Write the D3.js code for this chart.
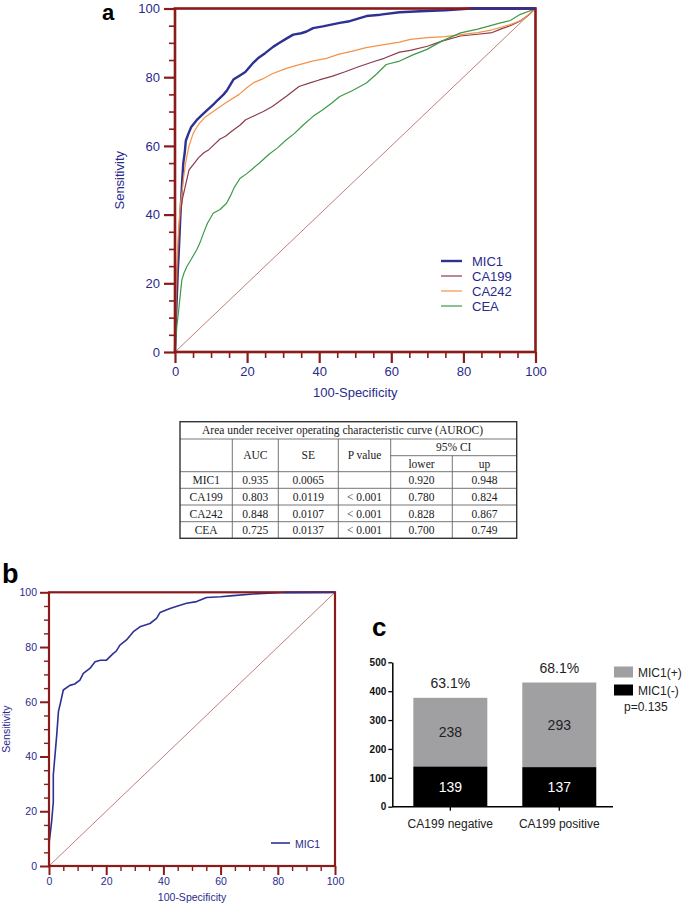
<!DOCTYPE html>
<html><head><meta charset="utf-8">
<script src="https://cdn.jsdelivr.net/npm/d3@7"></script>
<style>
html,body{margin:0;padding:0;background:#fff;}
svg{display:block;}
</style></head>
<body>
<svg id="chart" width="685" height="905"></svg>
<script>
// ---------- DATA ----------
// Panel a ROC curves: [100-Specificity, Sensitivity]
const mic1A = [[0,0],[0.2,8],[0.5,16],[0.8,24],[1,28],[1.3,35],[1.5,40],[1.8,46],[2,50],[2.3,55],[2.7,58],[3,61.5],[3.7,63.5],[4.5,65.5],[6,67.5],[7.5,69],[9,70.5],[10.6,72],[12,73.5],[13.5,75],[14.5,76.3],[16.2,79.3],[18,80.5],[19.5,81.5],[21.7,84.2],[23,85.5],[25,87],[27.3,88.9],[29,90],[31,91.3],[32.8,92.4],[35,92.8],[36.5,93.3],[38.3,94.3],[41,94.8],[45.7,95.8],[48,96.2],[53.1,97.8],[57,98.2],[62.3,98.9],[68,99.2],[75,99.5],[82,100],[100,100]];
const ca199A = [[0,0],[0.2,8],[0.5,20],[0.8,28],[1,32],[1.3,38],[1.5,40],[2,44.3],[2.8,48],[3.9,53],[5,54.5],[6.5,56.5],[8,58],[9.4,58.9],[11,60.5],[12.5,62],[14,62.8],[16,64.5],[18,66],[19.6,67.6],[22,68.8],[24.5,70],[27,71.5],[29,73],[31,74.5],[34.4,77.3],[37,78.2],[40,79.2],[43.7,80.3],[47,81.5],[51.1,83.1],[55,84.5],[58,85.5],[62.3,87.3],[65.3,87.8],[70,89],[74,90.5],[79.2,92],[84,92.5],[88,93],[90.3,94],[93,95],[95.8,96.4],[98,98],[100,100]];
const ca242A = [[0,0],[0.2,12],[0.5,24],[0.8,32],[1,36],[1.5,43],[2,47],[2.3,50.1],[2.8,54],[3.3,57],[3.9,60],[5,63.5],[5.8,65],[6.7,66.5],[8.5,68.5],[11.3,70.5],[14,72.5],[17.8,75],[20,77],[22,78.5],[24.3,79.5],[27,81],[30.7,82.5],[34,83.5],[38.1,84.7],[42,85.5],[45.5,86.7],[49,87.5],[53,88.6],[58,89.5],[62.3,90.2],[65.3,91],[70,91.5],[75,91.8],[79.2,92.4],[84,93],[88,93.8],[93,95.3],[96,96.5],[98.6,98.7],[100,100]];
const ceaA = [[0,0],[0.3,4],[0.5,7.4],[1,12],[1.5,17],[1.9,21],[2.5,23],[3.3,24.9],[4.5,27],[6,29.7],[7,32],[7.9,34.6],[9,37.5],[10.6,40.4],[12.5,41.5],[14.3,43.3],[15.3,45.3],[16.5,48],[18,50.5],[20,52],[23.5,55.1],[26,57.5],[28.5,59.5],[30.9,61.8],[33,63.5],[35.5,66],[38.3,68.6],[41,70.5],[43.5,72.5],[45.7,74.4],[49,76],[53.1,78.3],[56,81],[58.6,83.7],[62.3,84.7],[66,86.5],[69.9,88.1],[74,90.5],[79.2,92.9],[84,94],[90.3,95.8],[93,96.5],[95.8,98.3],[99.5,99.7],[100,100]];
const seriesNamesA = ["MIC1","CA199","CA242","CEA"];
const seriesColorsA = ["#2e3192","#8c3b4b","#f4924a","#3d9a48"];

// Panel b ROC curve
const mic1B = [[0,0],[0.1,8.9],[0.9,16],[1.5,23.4],[1.5,33.2],[2.1,40.5],[2.7,47.8],[3.3,56.4],[4.1,60],[5,64.3],[7.3,66],[9,66.5],[10.8,67.9],[12,70.4],[14.3,72.2],[16.1,74.6],[18,75.2],[20.1,75.2],[22.5,77.7],[23.5,78.5],[24.8,80.7],[27.1,82.6],[29.5,85.6],[31.8,87.4],[35.3,88.6],[37.6,90.5],[38.8,92.6],[42.3,94.1],[45,95],[48.1,96],[51.6,96.6],[55.1,98.1],[60,98.4],[64.4,98.8],[71.4,99.4],[81.9,99.9],[100,100]];

// Table
const tableTitle = "Area under receiver operating characteristic curve (AUROC)";
const tableHeaders = ["", "AUC", "SE", "P  value", "lower", "up"];
const tableCIHeader = "95% CI";
const tableMarkers = ["MIC1","CA199","CA242","CEA"];
const tableAUC = ["0.935","0.803","0.848","0.725"];
const tableSE = ["0.0065","0.0119","0.0107","0.0137"];
const tableP = ["","< 0.001","< 0.001","< 0.001"];
const tableLower = ["0.920","0.780","0.828","0.700"];
const tableUp = ["0.948","0.824","0.867","0.749"];

// Panel c stacked bars
const barCategories = ["CA199 negative","CA199 positive"];
const micNeg = [139,137];
const micPos = [238,293];
const barPercents = ["63.1%","68.1%"];
const barTicks = [0,100,200,300,400,500];
const rocTicks = [0,20,40,60,80,100];

// ---------- DRAW ----------
const svg = d3.select("#chart");
const NAVY = "#2a2a8c";
const AXRED = "#8b1a1a";
const SANS = "'Liberation Sans', Arial, sans-serif";

function rocPanel(opt){
  const g = svg.append("g");
  const x = d3.scaleLinear().domain([0,100]).range([opt.x0,opt.x1]);
  const y = d3.scaleLinear().domain([0,100]).range([opt.y0,opt.y1]);
  const minor = d3.range(0,101,5).filter(v=>v%20!==0);
  g.append("g").attr("transform",`translate(0,${opt.y0})`)
    .call(d3.axisBottom(x).tickValues(minor).tickSize(opt.minT).tickFormat(""))
    .call(s=>{s.select(".domain").remove(); s.selectAll("line").attr("stroke",AXRED).attr("stroke-width",opt.tw);});
  g.append("g").attr("transform",`translate(${opt.x0},0)`)
    .call(d3.axisLeft(y).tickValues(minor).tickSize(opt.minT).tickFormat(""))
    .call(s=>{s.select(".domain").remove(); s.selectAll("line").attr("stroke",AXRED).attr("stroke-width",opt.tw);});
  const xa = g.append("g").attr("transform",`translate(0,${opt.y0})`)
    .call(d3.axisBottom(x).tickValues(rocTicks).tickSize(opt.majT).tickPadding(opt.pad));
  const ya = g.append("g").attr("transform",`translate(${opt.x0},0)`)
    .call(d3.axisLeft(y).tickValues(rocTicks).tickSize(opt.majT).tickPadding(opt.pad));
  [xa,ya].forEach(a=>{
    a.select(".domain").remove();
    a.selectAll("line").attr("stroke",AXRED).attr("stroke-width",opt.tw+0.6);
    a.selectAll("text").attr("fill",NAVY).attr("font-family",SANS).attr("font-size",opt.fs);
  });
  g.append("line").attr("x1",x(0)).attr("y1",y(0)).attr("x2",x(100)).attr("y2",y(100))
    .attr("stroke","#b5706a").attr("stroke-width",0.9);
  const line = d3.line().x(d=>x(d[0])).y(d=>y(d[1]));
  opt.curves.forEach(c=>{
    g.append("path").datum(c.data).attr("d",line).attr("fill","none")
      .attr("stroke",c.color).attr("stroke-width",c.w).attr("stroke-linejoin","round");
  });
  g.append("rect").attr("x",opt.x0).attr("y",opt.y1).attr("width",opt.x1-opt.x0).attr("height",opt.y0-opt.y1)
    .attr("fill","none").attr("stroke",AXRED).attr("stroke-width",opt.fw);
  const top = opt.curves[0];
  g.append("path").datum(top.data.filter(d=>d[1]>=99.9)).attr("d",line).attr("fill","none")
    .attr("stroke",top.color).attr("stroke-width",top.w);
  g.append("text").attr("x",(opt.x0+opt.x1)/2).attr("y",opt.xtY).attr("text-anchor","middle")
    .attr("fill",NAVY).attr("font-family",SANS).attr("font-size",opt.tfs).text("100-Specificity");
  g.append("text").attr("transform",`translate(${opt.ytX},${(opt.y0+opt.y1)/2}) rotate(-90)`)
    .attr("text-anchor","middle").attr("fill",NAVY).attr("font-family",SANS).attr("font-size",opt.tfs).text("Sensitivity");
  opt.legend.forEach((l,i)=>{
    const ly = opt.lgY + i*opt.lgStep;
    g.append("line").attr("x1",opt.lgX).attr("x2",opt.lgX+opt.lgLen).attr("y1",ly).attr("y2",ly)
      .attr("stroke",l.color).attr("stroke-width",l.w);
    g.append("text").attr("x",opt.lgX+opt.lgLen+opt.lgGap).attr("y",ly+4.5).attr("fill",NAVY)
      .attr("font-family",SANS).attr("font-size",opt.lfs).text(l.name);
  });
}

const curvesA = [mic1A, ca199A, ca242A, ceaA];
const widthsA = [2.4,1.2,1.2,1.2];
rocPanel({
  x0:175, x1:535.5, y0:352, y1:8.5, minT:6, majT:11, pad:4, tw:1.6, fw:2.6, fs:13, tfs:13,
  xtY:397, ytX:124,
  curves:[0,1,2,3].map(i=>({data:curvesA[i],color:seriesColorsA[i],w:widthsA[i]})),
  legend:seriesNamesA.map((n,i)=>({name:n,color:seriesColorsA[i],w:widthsA[i]})),
  lgX:441, lgLen:21, lgGap:10, lgY:261, lgStep:15, lfs:13
});
rocPanel({
  x0:49, x1:335, y0:866, y1:592.3, minT:5, majT:9, pad:3, tw:1.4, fw:2.2, fs:10.5, tfs:10.5,
  xtY:901, ytX:10,
  curves:[{data:mic1B,color:"#2e3192",w:1.6}],
  legend:[{name:"MIC1",color:"#2e3192",w:1.6}],
  lgX:271, lgLen:19, lgGap:5, lgY:843, lgStep:15, lfs:10.5
});

// panel letters
svg.append("text").attr("x",102).attr("y",20).attr("font-family",SANS).attr("font-weight","bold").attr("font-size",22).text("a");
svg.append("text").attr("x",2).attr("y",583).attr("font-family",SANS).attr("font-weight","bold").attr("font-size",27).text("b");
svg.append("text").attr("x",372).attr("y",636).attr("font-family",SANS).attr("font-weight","bold").attr("font-size",26).text("c");

// ---------- TABLE ----------
(function(){
  const g = svg.append("g");
  const colX = [180,232.3,278.3,338.3,390.7,452.3,516.7];
  const rowY = [421.7,439,455.7,471.7,488.3,505,521.7,538.3];
  const SERIF = "'Liberation Serif','Times New Roman',serif";
  const fs = 11.5;
  const ln = (x1,y1,x2,y2)=>g.append("line").attr("x1",x1).attr("y1",y1).attr("x2",x2).attr("y2",y2).attr("stroke","#666").attr("stroke-width",0.9);
  ln(colX[0],rowY[1],colX[6],rowY[1]);
  ln(colX[4],rowY[2],colX[6],rowY[2]);
  for(let r=3;r<7;r++) ln(colX[0],rowY[r],colX[6],rowY[r]);
  for(let c=1;c<6;c++){
    const top = c===5 ? rowY[2] : rowY[1];
    ln(colX[c],top,colX[c],rowY[7]);
  }
  g.append("rect").attr("x",colX[0]).attr("y",rowY[0]).attr("width",colX[6]-colX[0]).attr("height",rowY[7]-rowY[0])
    .attr("fill","none").attr("stroke","#333").attr("stroke-width",1.4);
  const txt = (x,y,t,anchor)=>g.append("text").attr("x",x).attr("y",y).attr("text-anchor",anchor||"middle")
    .attr("font-family",SERIF).attr("font-size",fs).attr("fill","#222").text(t);
  txt(202,rowY[0]+12.5,tableTitle,"start");
  const mid = c=>(colX[c]+colX[c+1])/2;
  [1,2,3].forEach(c=>txt(mid(c),(rowY[1]+rowY[3])/2+4,tableHeaders[c]));
  txt((colX[4]+colX[6])/2,rowY[1]+12,tableCIHeader);
  txt(mid(4),rowY[2]+12,tableHeaders[4]);
  txt(mid(5),rowY[2]+12,tableHeaders[5]);
  const cols = [tableMarkers,tableAUC,tableSE,tableP,tableLower,tableUp];
  tableMarkers.forEach((m,r)=>{
    cols.forEach((col,c)=>txt(mid(c),rowY[3+r]+12.5,col[r]));
  });
})();

// ---------- PANEL C ----------
(function(){
  const g = svg.append("g");
  const y = d3.scaleLinear().domain([0,500]).range([806.7,662.3]);
  const xb = d3.scaleBand().domain(barCategories).range([392.3,617.3]).paddingInner(0.321).paddingOuter(0.193);
  const bw = xb.bandwidth();
  barCategories.forEach((cat,i)=>{
    const bx = xb(cat);
    g.append("rect").attr("x",bx).attr("width",bw).attr("y",y(micNeg[i]+micPos[i])).attr("height",y(micNeg[i])-y(micNeg[i]+micPos[i])).attr("fill","#a0a0a3");
    g.append("rect").attr("x",bx).attr("width",bw).attr("y",y(micNeg[i])).attr("height",y(0)-y(micNeg[i])).attr("fill","#000");
    g.append("text").attr("x",bx+bw/2).attr("y",(y(micNeg[i])+y(0))/2+5).attr("text-anchor","middle")
      .attr("fill","#fff").attr("font-family",SANS).attr("font-size",14).text(micNeg[i]);
    g.append("text").attr("x",bx+bw/2).attr("y",(y(micNeg[i])+y(micNeg[i]+micPos[i]))/2+5).attr("text-anchor","middle")
      .attr("fill","#222").attr("font-family",SANS).attr("font-size",14).text(micPos[i]);
    g.append("text").attr("x",bx+bw/2).attr("y",y(micNeg[i]+micPos[i])-10).attr("text-anchor","middle")
      .attr("fill","#222").attr("font-family",SANS).attr("font-size",14).text(barPercents[i]);
  });
  const ya = g.append("g").attr("transform","translate(392.3,0)")
    .call(d3.axisLeft(y).tickValues(barTicks).tickSize(4).tickPadding(2).tickSizeOuter(0));
  ya.selectAll("text").attr("font-family",SANS).attr("font-weight","bold").attr("font-size",10).attr("fill","#111");
  ya.select(".domain").attr("stroke-width",1.5);
  ya.selectAll("line").attr("stroke-width",1.3);
  const xa = g.append("g").attr("transform","translate(0,806.7)")
    .call(d3.axisBottom(xb).tickSize(4).tickPadding(9).tickSizeOuter(0));
  xa.select(".domain").attr("stroke-width",1.5).attr("d","M392.3,0H613");
  xa.selectAll("line").attr("stroke-width",1.3);
  xa.selectAll("text").attr("font-family",SANS).attr("font-size",12).attr("fill","#222");
  g.append("rect").attr("x",614).attr("y",666.5).attr("width",19).attr("height",11).attr("fill","#a0a0a3");
  g.append("text").attr("x",638).attr("y",676.5).attr("font-family",SANS).attr("font-size",12).attr("fill","#222").text("MIC1(+)");
  g.append("rect").attr("x",614).attr("y",684.5).attr("width",19).attr("height",11).attr("fill","#000");
  g.append("text").attr("x",638).attr("y",694.5).attr("font-family",SANS).attr("font-size",12).attr("fill","#222").text("MIC1(-)");
  g.append("text").attr("x",624).attr("y",710.5).attr("font-family",SANS).attr("font-size",12).attr("fill","#222").text("p=0.135");
})();
</script>
</body></html>
